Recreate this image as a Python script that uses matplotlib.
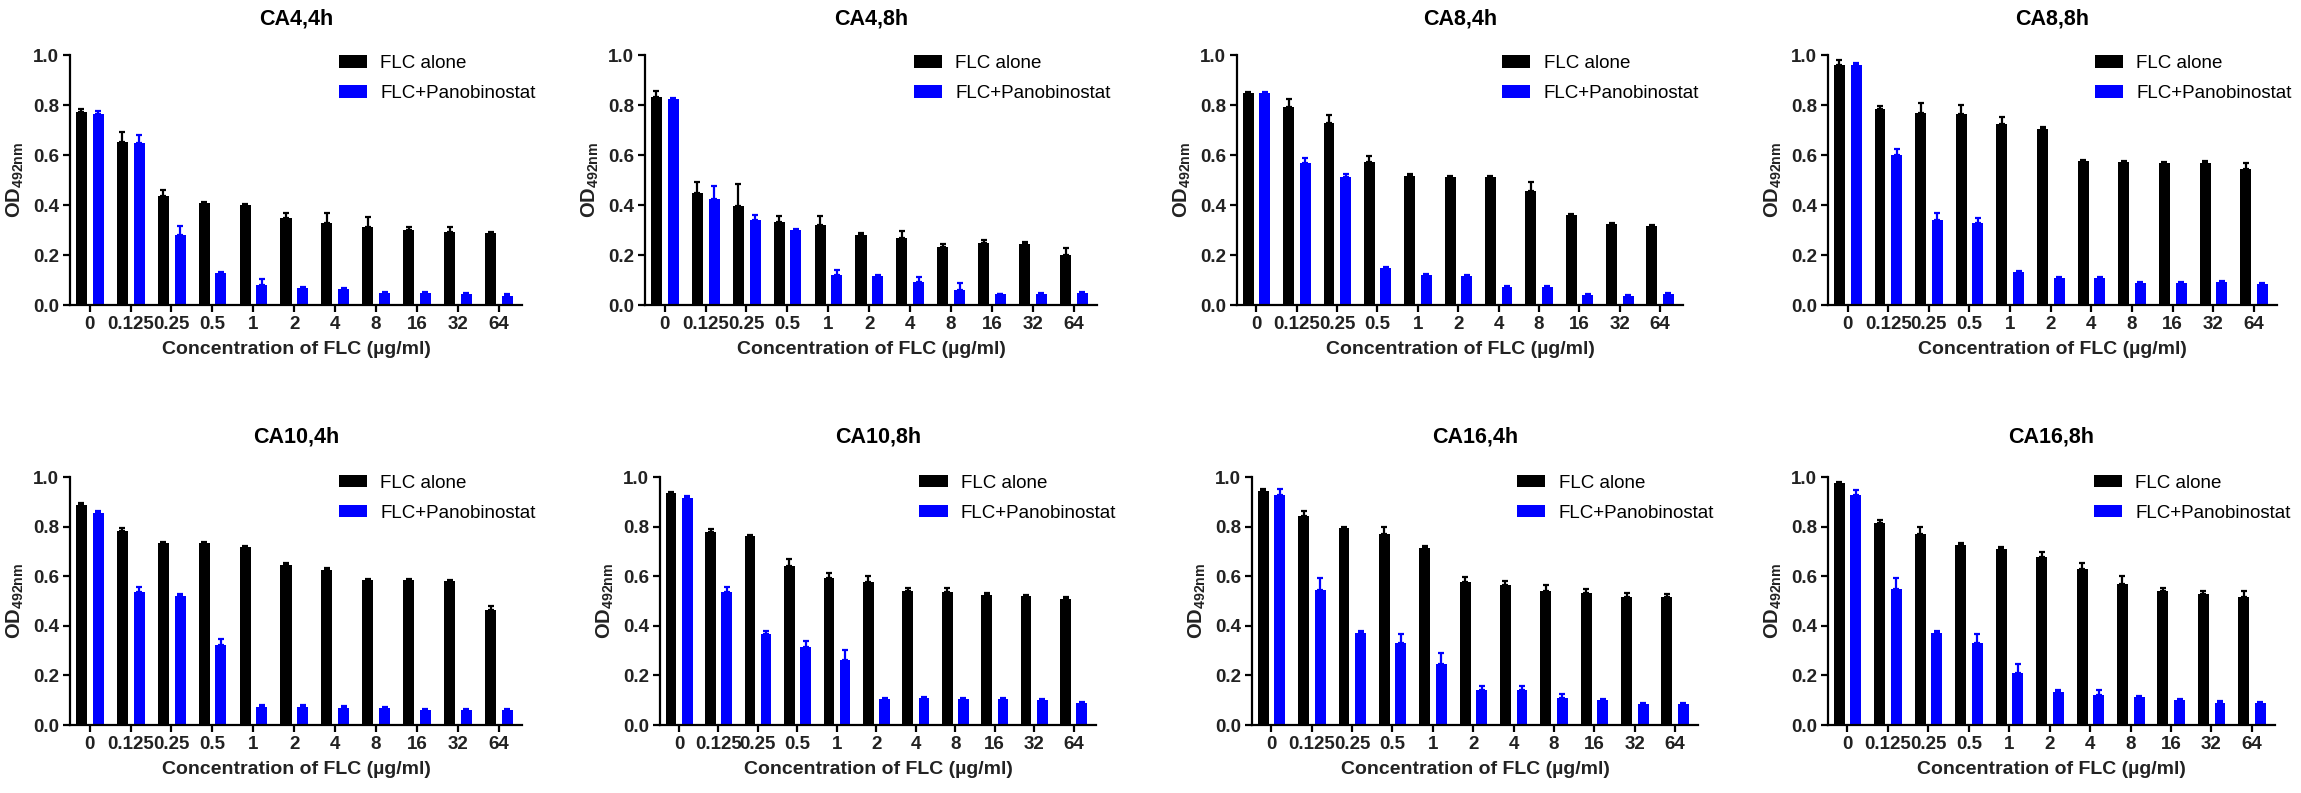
import numpy as np
import matplotlib.pyplot as plt

plt.rcParams['font.family'] = ['Liberation Sans', 'DejaVu Sans']
plt.rcParams['mathtext.fontset'] = 'custom'
plt.rcParams['mathtext.rm'] = 'Liberation Sans'
plt.rcParams['mathtext.bf'] = 'Liberation Sans:bold'

# FLC concentrations (ug/ml)
concentrations = ['0', '0.125', '0.25', '0.5', '1', '2', '4', '8', '16', '32', '64']
titles = ['CA4,4h', 'CA4,8h', 'CA8,4h', 'CA8,8h', 'CA10,4h', 'CA10,8h', 'CA16,4h', 'CA16,8h']
series_names = ['FLC alone', 'FLC+Panobinostat']

# OD492 means and (upper) SD
ca4_4h_flc = [0.773, 0.653, 0.436, 0.407, 0.400, 0.347, 0.330, 0.313, 0.300, 0.293, 0.287]
ca4_4h_flc_err = [0.010, 0.040, 0.025, 0.005, 0.005, 0.020, 0.040, 0.040, 0.013, 0.020, 0.005]
ca4_4h_pano = [0.763, 0.647, 0.280, 0.127, 0.080, 0.067, 0.063, 0.047, 0.047, 0.044, 0.037]
ca4_4h_pano_err = [0.013, 0.033, 0.037, 0.005, 0.023, 0.005, 0.005, 0.005, 0.005, 0.005, 0.008]

ca4_8h_flc = [0.831, 0.449, 0.396, 0.333, 0.320, 0.280, 0.267, 0.233, 0.249, 0.243, 0.200]
ca4_8h_flc_err = [0.025, 0.044, 0.088, 0.023, 0.036, 0.010, 0.030, 0.013, 0.010, 0.010, 0.027]
ca4_8h_pano = [0.824, 0.423, 0.340, 0.300, 0.120, 0.116, 0.093, 0.060, 0.043, 0.044, 0.047]
ca4_8h_pano_err = [0.005, 0.053, 0.020, 0.005, 0.020, 0.005, 0.020, 0.029, 0.003, 0.003, 0.005]

ca8_4h_flc = [0.849, 0.793, 0.727, 0.573, 0.517, 0.513, 0.513, 0.456, 0.360, 0.324, 0.316]
ca8_4h_flc_err = [0.005, 0.030, 0.033, 0.023, 0.007, 0.005, 0.005, 0.037, 0.005, 0.005, 0.005]
ca8_4h_pano = [0.849, 0.567, 0.513, 0.147, 0.120, 0.116, 0.073, 0.073, 0.040, 0.037, 0.043]
ca8_4h_pano_err = [0.005, 0.023, 0.010, 0.005, 0.005, 0.005, 0.005, 0.005, 0.003, 0.003, 0.005]

ca8_8h_flc = [0.960, 0.783, 0.769, 0.764, 0.723, 0.704, 0.576, 0.573, 0.569, 0.567, 0.543]
ca8_8h_flc_err = [0.020, 0.015, 0.040, 0.036, 0.028, 0.010, 0.005, 0.005, 0.005, 0.008, 0.024]
ca8_8h_pano = [0.960, 0.600, 0.340, 0.327, 0.133, 0.109, 0.107, 0.089, 0.089, 0.093, 0.084]
ca8_8h_pano_err = [0.010, 0.024, 0.027, 0.020, 0.005, 0.005, 0.005, 0.003, 0.003, 0.005, 0.003]

ca10_4h_flc = [0.889, 0.783, 0.733, 0.733, 0.716, 0.647, 0.625, 0.585, 0.585, 0.580, 0.462]
ca10_4h_flc_err = [0.005, 0.010, 0.005, 0.005, 0.005, 0.005, 0.010, 0.005, 0.005, 0.005, 0.016]
ca10_4h_pano = [0.856, 0.537, 0.522, 0.323, 0.074, 0.074, 0.070, 0.067, 0.061, 0.061, 0.061]
ca10_4h_pano_err = [0.005, 0.020, 0.005, 0.023, 0.005, 0.005, 0.005, 0.005, 0.005, 0.005, 0.005]

ca10_8h_flc = [0.935, 0.779, 0.761, 0.641, 0.593, 0.575, 0.542, 0.536, 0.523, 0.519, 0.507]
ca10_8h_flc_err = [0.005, 0.010, 0.005, 0.028, 0.020, 0.027, 0.010, 0.015, 0.008, 0.005, 0.008]
ca10_8h_pano = [0.915, 0.537, 0.368, 0.314, 0.264, 0.105, 0.108, 0.105, 0.105, 0.101, 0.089]
ca10_8h_pano_err = [0.008, 0.020, 0.010, 0.023, 0.040, 0.005, 0.005, 0.005, 0.005, 0.005, 0.005]

ca16_4h_flc = [0.945, 0.841, 0.794, 0.770, 0.713, 0.575, 0.566, 0.539, 0.532, 0.516, 0.515]
ca16_4h_flc_err = [0.005, 0.020, 0.005, 0.030, 0.010, 0.020, 0.015, 0.025, 0.015, 0.015, 0.015]
ca16_4h_pano = [0.928, 0.546, 0.370, 0.330, 0.246, 0.141, 0.141, 0.110, 0.101, 0.083, 0.083]
ca16_4h_pano_err = [0.023, 0.045, 0.010, 0.038, 0.046, 0.017, 0.017, 0.015, 0.005, 0.005, 0.005]

ca16_8h_flc = [0.976, 0.815, 0.772, 0.725, 0.708, 0.676, 0.628, 0.569, 0.542, 0.528, 0.517]
ca16_8h_flc_err = [0.005, 0.010, 0.028, 0.010, 0.008, 0.022, 0.027, 0.032, 0.012, 0.012, 0.024]
ca16_8h_pano = [0.928, 0.549, 0.370, 0.330, 0.209, 0.132, 0.121, 0.112, 0.101, 0.090, 0.088]
ca16_8h_pano_err = [0.020, 0.044, 0.010, 0.035, 0.037, 0.010, 0.020, 0.005, 0.005, 0.005, 0.005]

panels = [
    (ca4_4h_flc, ca4_4h_flc_err, ca4_4h_pano, ca4_4h_pano_err),
    (ca4_8h_flc, ca4_8h_flc_err, ca4_8h_pano, ca4_8h_pano_err),
    (ca8_4h_flc, ca8_4h_flc_err, ca8_4h_pano, ca8_4h_pano_err),
    (ca8_8h_flc, ca8_8h_flc_err, ca8_8h_pano, ca8_8h_pano_err),
    (ca10_4h_flc, ca10_4h_flc_err, ca10_4h_pano, ca10_4h_pano_err),
    (ca10_8h_flc, ca10_8h_flc_err, ca10_8h_pano, ca10_8h_pano_err),
    (ca16_4h_flc, ca16_4h_flc_err, ca16_4h_pano, ca16_4h_pano_err),
    (ca16_8h_flc, ca16_8h_flc_err, ca16_8h_pano, ca16_8h_pano_err),
]

W, H = 2301, 793
fig = plt.figure(figsize=(W / 100, H / 100), dpi=100)

# axes boxes in pixels: left, right, top(1.0), bottom(0.0)
lefts_top = [70, 645, 1237, 1828]
rights_top = [522, 1097, 1683, 2277]
lefts_bot = [70, 660, 1252, 1828]
rights_bot = [522, 1096, 1698, 2275]

colors = ['#000000', '#0000ff']
x = np.arange(len(concentrations))
bar_w = 0.27
offsets = [-0.2, 0.21]

for i, (flc, flc_err, pano, pano_err) in enumerate(panels):
    row, col = divmod(i, 4)
    if row == 0:
        l, r, t, b = lefts_top[col], rights_top[col], 55, 305
        title_pad = 22
        leg_y = 1.0
    else:
        l, r, t, b = lefts_bot[col], rights_bot[col], 477, 725
        title_pad = 25
        leg_y = 1.01
    ax = fig.add_axes([l / W, 1 - b / H, (r - l) / W, (b - t) / H])

    for k, (vals, errs) in enumerate([(flc, flc_err), (pano, pano_err)]):
        ax.bar(x + offsets[k], vals, width=bar_w, color=colors[k], label=series_names[k], zorder=2)
        ax.errorbar(x + offsets[k], vals, yerr=[np.zeros(len(errs)), errs], fmt='none',
                    ecolor=colors[k], elinewidth=1.6, capsize=2.5, capthick=1.6, zorder=3)

    ax.set_xlim(-0.48, 10.57)
    ax.set_ylim(0, 1.0)
    ax.set_yticks([0, 0.2, 0.4, 0.6, 0.8, 1.0])
    ax.set_yticklabels(['0.0', '0.2', '0.4', '0.6', '0.8', '1.0'])
    ax.set_xticks(x)
    ax.set_xticklabels(concentrations)
    for s in ['top', 'right']:
        ax.spines[s].set_visible(False)
    for s in ['left', 'bottom']:
        ax.spines[s].set_linewidth(1.6)
    ax.tick_params(axis='both', width=1.6, length=5, labelsize=13.5, pad=3)
    for lbl in ax.get_xticklabels() + ax.get_yticklabels():
        lbl.set_fontweight('bold')
        lbl.set_color('#222222')

    ax.set_title(titles[i], fontsize=15.5, fontweight='bold', pad=title_pad)
    ax.set_xlabel('Concentration of FLC (µg/ml)', fontsize=14, fontweight='bold',
                  labelpad=6, color='#222222')
    ax.set_ylabel(r'$\mathbf{OD_{492nm}}$', fontsize=14.5, labelpad=5, color='#222222')

    ax.legend(loc='upper left', bbox_to_anchor=(0.595, leg_y), frameon=False,
              fontsize=13.5, handlelength=1.5, handleheight=0.65, handletextpad=0.7,
              labelspacing=0.7, borderpad=0, borderaxespad=0)

fig.savefig('out.png', dpi=100)
